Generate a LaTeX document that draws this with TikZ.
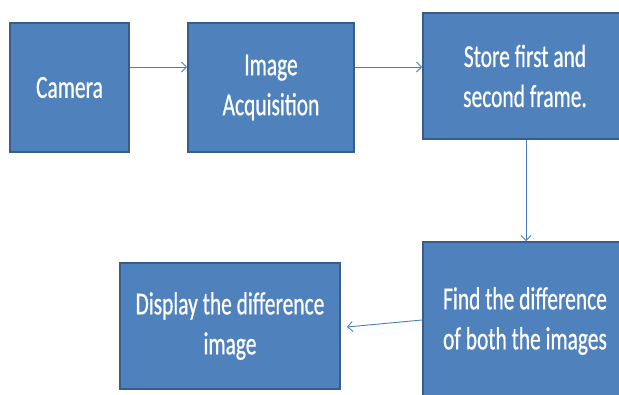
\documentclass[tikz,border=0pt]{standalone}
\usepackage{fontspec}
\setmainfont[FakeStretch=0.67,FakeBold=0.6]{Carlito}
\usetikzlibrary{arrows.meta}
\definecolor{boxfill}{HTML}{4F81BD}
\definecolor{boxline}{HTML}{385D8A}
\definecolor{arrcol}{HTML}{4A7EBB}
\tikzset{
  blk/.style={draw=boxline, line width=1.8pt, fill=boxfill, text=white, align=center,
    font=\fontsize{32}{40}\selectfont, inner sep=0pt},
  arr/.style={draw=arrcol, line width=0.9pt, -{Straight Barb[length=5pt,width=10pt]}}
}
\begin{document}
\begin{tikzpicture}[x=1pt,y=1pt]
\clip (0,0) rectangle (619,394);
\fill[white] (0,0) rectangle (619,394);
\node[blk, minimum width=119pt, minimum height=129pt] (cam) at (69.5,306.5) {Camera};
\node[blk, minimum width=166pt, minimum height=129pt] (acq) at (271,306.5) {Image\\Acquisition};
\node[blk, minimum width=204pt, minimum height=126pt] (store) at (525,318) {Store first and\\second frame.};
\node[blk, minimum width=204pt, minimum height=158pt] (find) at (525,73) {Find the difference\\of both the images};
\node[blk, minimum width=220pt, minimum height=126pt] (disp) at (230,68) {Display the difference\\image};
\coordinate (dispin) at (347,67);
\draw[arr] (cam.east |- 0,327) -- (acq.west |- 0,327);
\draw[arr] (acq.east |- 0,327) -- (store.west |- 0,327);
\draw[arr] (store.south -| 526,0) -- (find.north -| 526,0);
\draw[arr] (find.west |- 0,74) -- (dispin);
\end{tikzpicture}
\end{document}
